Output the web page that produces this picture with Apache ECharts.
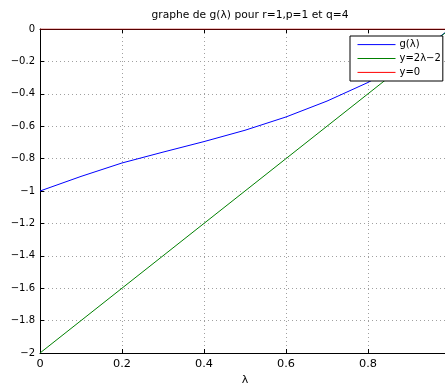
<!DOCTYPE html>
<html><head><meta charset="utf-8">
<script src="https://cdn.jsdelivr.net/npm/echarts@6/dist/echarts.min.js"></script>
<style>html,body{margin:0;padding:0;background:#fff;}#c{width:445px;height:385px;}</style>
</head><body><div id="c"></div>
<script>
const lambda = [0, 0.1, 0.2, 0.3, 0.4, 0.5, 0.6, 0.7, 0.8, 0.9, 1.0];
const gValues = [-1, -0.91, -0.827, -0.76, -0.695, -0.625, -0.543, -0.445, -0.33, -0.19, 0];
const lineValues = [-2, -1.8, -1.6, -1.4, -1.2, -1, -0.8, -0.6, -0.4, -0.2, 0];
const zeroValues = [0, 0, 0, 0, 0, 0, 0, 0, 0, 0, 0];
const seriesNames = ['g(λ)', 'y=2λ−2', 'y=0'];
const titleText = 'graphe de g(λ) pour r=1,p=1 et q=4';

const font = '"DejaVu Sans", Verdana, sans-serif';
const pair = (ys) => lambda.map((x, i) => [x, ys[i]]);
const grid = {color: '#a0a0a0', type: [1, 3], width: 1};

const chart = echarts.init(document.getElementById('c'), null, {renderer: 'canvas'});
chart.setOption({
  animation: false,
  backgroundColor: '#fff',
  title: {text: titleText, left: 245, top: 5, textAlign: 'center',
    textStyle: {fontFamily: font, fontSize: 10.7, fontWeight: 'normal', color: '#000'}},
  grid: {left: 40, top: 29, right: -5, bottom: 32, containLabel: false, outerBoundsMode: 'none'},
  legend: {
    orient: 'vertical', left: 350, top: 36,
    padding: [3, 2, 3, 7], itemGap: 2.7, itemWidth: 38, itemHeight: 14,
    borderColor: '#000', borderWidth: 1, backgroundColor: '#fff',
    itemStyle: {opacity: 0},
    lineStyle: {width: 1},
    textStyle: {fontFamily: font, fontSize: 10, color: '#000', padding: [0, 0, 0, -1]},
    data: [
      {name: seriesNames[0]},
      {name: seriesNames[1]},
      {name: seriesNames[2], lineStyle: {color: '#ff0000', width: 1}}
    ]
  },
  xAxis: [{
    type: 'value', min: 0, max: 1, interval: 0.2, position: 'bottom',
    name: 'λ', nameLocation: 'middle', nameGap: 19,
    nameTextStyle: {fontFamily: font, fontSize: 11, color: '#000'},
    axisLine: {onZero: false, lineStyle: {color: '#000', width: 1}},
    axisTick: {inside: true, length: 4, lineStyle: {color: '#000'}},
    axisLabel: {fontFamily: font, fontSize: 11.3, color: '#000', margin: 6, showMaxLabel: false},
    splitLine: {show: true, lineStyle: grid}
  }, {
    type: 'value', min: 0, max: 1, interval: 0.2, position: 'top',
    axisLine: {onZero: false, lineStyle: {color: '#000', width: 1}},
    axisTick: {inside: true, length: 4, lineStyle: {color: '#000'}},
    axisLabel: {show: false}, splitLine: {show: false}
  }],
  yAxis: [{
    type: 'value', min: -2, max: 0, interval: 0.2,
    axisLine: {onZero: false, lineStyle: {color: '#000', width: 1}},
    axisTick: {inside: true, length: 4, lineStyle: {color: '#000'}},
    axisLabel: {fontFamily: font, fontSize: 10, color: '#000', margin: 5,
      formatter: (v) => String(+v.toFixed(1)).replace('-', '−')},
    splitLine: {show: true, lineStyle: grid}
  }],
  series: [
    {name: seriesNames[0], type: 'line', data: pair(gValues), symbol: 'none',
      lineStyle: {color: '#0000ff', width: 1}, itemStyle: {color: '#0000ff'}},
    {name: seriesNames[1], type: 'line', data: pair(lineValues), symbol: 'none',
      lineStyle: {color: '#008000', width: 1}, itemStyle: {color: '#008000'}},
    {name: seriesNames[2], type: 'line', data: pair(zeroValues), symbol: 'none',
      lineStyle: {color: '#b00000', width: 1}, itemStyle: {color: '#b00000'}}
  ]
});
</script></body></html>
